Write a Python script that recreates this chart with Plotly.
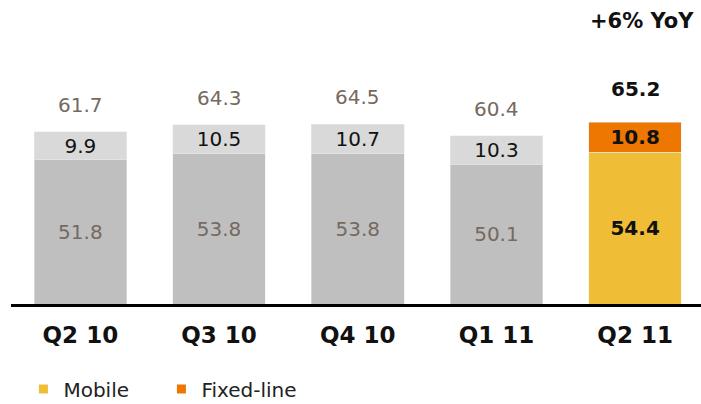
import plotly.graph_objects as go

quarters = ["Q2 10", "Q3 10", "Q4 10", "Q1 11", "Q2 11"]
mobile = [51.8, 53.8, 53.8, 50.1, 54.4]
fixed_line = [9.9, 10.5, 10.7, 10.3, 10.8]
totals = [61.7, 64.3, 64.5, 60.4, 65.2]
yoy_label = "+6% YoY"

FONT = "DejaVu Sans"
GRAY_DARK = "#bfbfbf"
GRAY_LIGHT = "#d9d9d9"
YELLOW = "#efbe36"
ORANGE = "#ed7700"
BROWN = "#76695f"
BLACK = "#111111"

past = quarters[:-1]
cur = quarters[-1:]

fig = go.Figure()

# Previous quarters in grey
fig.add_bar(x=past, y=mobile[:-1], marker_color=GRAY_DARK, width=0.668,
            text=[f"{v:.1f}" for v in mobile[:-1]], textposition="inside",
            insidetextanchor="middle",
            textfont=dict(family=FONT, size=20, color=BROWN), showlegend=False)
fig.add_bar(x=past, y=fixed_line[:-1], marker_color=GRAY_LIGHT, width=0.668,
            text=[f"{v:.1f}" for v in fixed_line[:-1]], textposition="inside",
            insidetextanchor="middle",
            textfont=dict(family=FONT, size=20, color=BLACK), showlegend=False)

# Current quarter highlighted
fig.add_bar(x=cur, y=mobile[-1:], marker_color=YELLOW, width=0.668,
            text=[f"{v:.1f}" for v in mobile[-1:]], textposition="inside",
            insidetextanchor="middle",
            textfont=dict(family=FONT, size=20, color=BLACK, weight="bold"),
            showlegend=False)
fig.add_bar(x=cur, y=fixed_line[-1:], marker_color=ORANGE, width=0.668,
            text=[f"{v:.1f}" for v in fixed_line[-1:]], textposition="inside",
            insidetextanchor="middle",
            textfont=dict(family=FONT, size=20, color=BLACK, weight="bold"),
            showlegend=False)

# Legend entries, one legend box per series
fig.add_scatter(x=[None], y=[None], mode="markers", name="Mobile", legend="legend",
                marker=dict(symbol="square", size=9, color=YELLOW))
fig.add_scatter(x=[None], y=[None], mode="markers", name="Fixed-line", legend="legend2",
                marker=dict(symbol="square", size=9, color=ORANGE))

# Totals above bars
for i, (q, t) in enumerate(zip(quarters, totals)):
    last = i == len(quarters) - 1
    fig.add_annotation(x=q, y=t, text=f"{t:.1f}", showarrow=False,
                       yanchor="middle", yshift=33 if last else 27,
                       font=dict(family=FONT, size=20,
                                 color=BLACK if last else BROWN,
                                 weight="bold" if last else "normal"))

fig.add_annotation(x=quarters[-1], y=totals[-1], text=yoy_label, showarrow=False,
                   yanchor="middle", yshift=101, xshift=7,
                   font=dict(family=FONT, size=21, color=BLACK, weight="bold"))

legend_style = dict(orientation="h", y=-0.28, xanchor="left", yanchor="middle",
                    font=dict(family=FONT, size=20, color="#222222"),
                    bgcolor="rgba(0,0,0,0)")

fig.update_layout(
    width=701, height=404,
    margin=dict(l=11, r=0, t=0, b=100, autoexpand=False),
    barmode="stack",
    plot_bgcolor="white", paper_bgcolor="white",
    uniformtext=dict(minsize=20, mode="show"),
    showlegend=True,
    legend=dict(x=0.018, **legend_style),
    legend2=dict(x=0.218, **legend_style),
    xaxis=dict(range=[-0.5, 4.475], showline=True, linewidth=3, linecolor="black",
               showgrid=False, ticks="", ticklabelstandoff=8, automargin=False,
               tickfont=dict(family=FONT, size=23, color=BLACK, weight="bold")),
    yaxis=dict(range=[0, 109.0], visible=False, showgrid=False),
)

fig.write_html("out.html")
